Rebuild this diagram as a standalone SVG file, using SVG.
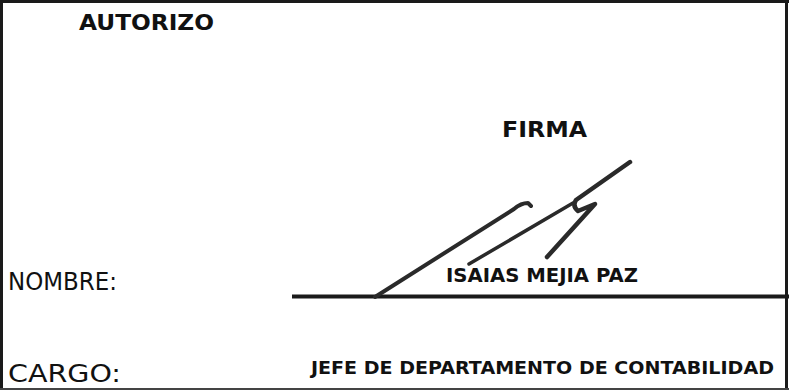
<svg xmlns="http://www.w3.org/2000/svg" width="789" height="390" viewBox="0 0 789 390">
<style>
.b{font-family:"DejaVu Sans","Liberation Sans",sans-serif;font-weight:bold;fill:#111}
.r{font-family:"DejaVu Sans","Liberation Sans",sans-serif;fill:#111}
.sig{fill:none;stroke:#2a2a2a;stroke-linecap:round;stroke-linejoin:round}
</style>
<rect x="0" y="0" width="789" height="390" fill="#fff"/>
<g id="frame" stroke="#1a1a1a" fill="none">
<line x1="1.5" y1="0" x2="1.5" y2="390" stroke-width="3"/>
<line x1="0" y1="1.5" x2="789" y2="1.5" stroke-width="3"/>
<line x1="786.5" y1="0" x2="786.5" y2="390" stroke-width="3"/>
<line x1="0" y1="389" x2="789" y2="389" stroke-width="2" stroke="#444"/>
<line x1="292" y1="296.5" x2="789" y2="296.5" stroke-width="4"/>
</g>
<g id="texts">
<text class="b" x="79" y="30" font-size="22" textLength="135" lengthAdjust="spacingAndGlyphs">AUTORIZO</text>
<text class="b" x="502" y="137" font-size="22" textLength="85" lengthAdjust="spacingAndGlyphs">FIRMA</text>
<text class="r" x="8" y="290" font-size="24" textLength="109" lengthAdjust="spacingAndGlyphs">NOMBRE:</text>
<text class="r" x="8" y="382" font-size="24" textLength="113" lengthAdjust="spacingAndGlyphs">CARGO:</text>
<text class="b" x="446" y="282" font-size="20" textLength="192" lengthAdjust="spacingAndGlyphs">ISAIAS MEJIA PAZ</text>
<text class="b" x="311" y="374" font-size="18" textLength="463" lengthAdjust="spacingAndGlyphs">JEFE DE DEPARTAMENTO DE CONTABILIDAD</text>
</g>
<g id="signature">
<path class="sig" stroke-width="4" d="M375 297 L514 209 Q521 203 528 203 L531 206"/>
<path class="sig" stroke-width="3.5" stroke="#555" d="M469 264 L573 203"/>
<path class="sig" stroke-width="4.5" d="M630 162 L576 200 Q572 206 578 211 L595 204 L547 257"/>
</g>
</svg>
